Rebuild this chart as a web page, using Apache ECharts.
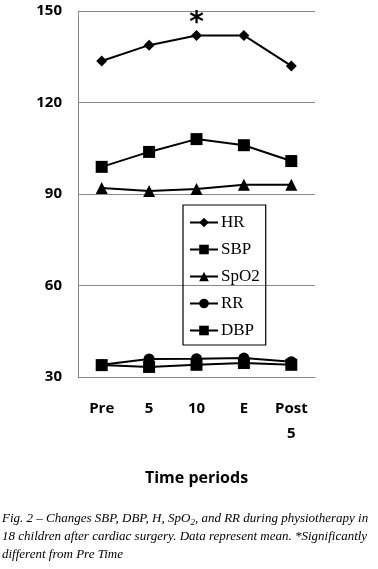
<!DOCTYPE html>
<html>
<head>
<meta charset="utf-8">
<script src="https://cdn.jsdelivr.net/npm/echarts@6/dist/echarts.min.js"></script>
<style>
  html, body { margin: 0; padding: 0; background: #fff; }
  #chart { width: 378px; height: 569px; }
</style>
</head>
<body>
<div id="chart"></div>
<script>
const periods = ['Pre', '5', '10', 'E', 'Post\n5'];
const yTicks = [30, 60, 90, 120, 150];
const hr = [133.6, 138.8, 142, 142, 132];
const sbp = [98.9, 103.8, 108, 106, 100.8];
const spo2 = [92, 91, 91.6, 93, 93];
const rr = [34, 35.9, 36, 36.2, 35];
const dbp = [33.9, 33.3, 34, 34.6, 34];
// index of the HR point flagged as significant
const sigIndex = 2;

const chart = echarts.init(document.getElementById('chart'), null, { renderer: 'canvas' });

function lineSeries(name, data, symbol, size) {
  return {
    name,
    type: 'line',
    data,
    symbol,
    symbolSize: size,
    showAllSymbol: true,
    lineStyle: { color: '#000', width: 2 },
    itemStyle: { color: '#000' },
    emphasis: { disabled: true },
    animation: false
  };
}

const hrSeries = lineSeries('HR', hr.map((v, i) => i === sigIndex ? {
  value: v,
  label: {
    show: true, position: 'top', formatter: '*', distance: 0, offset: [0, 8],
    fontSize: 28, fontWeight: 'bold', color: '#000', fontFamily: 'DejaVu Sans'
  }
} : v), 'diamond', 11);

const option = {
  backgroundColor: '#fff',
  grid: { left: 78, right: 63, top: 11, bottom: 192 },
  legend: {
    orient: 'vertical',
    left: 183, top: 205,
    width: 83,
    padding: [9, 6, 6, 6],
    itemGap: 10,
    itemWidth: 28,
    itemHeight: 12,
    borderColor: '#000',
    borderWidth: 1.2,
    borderRadius: 0,
    textStyle: { fontFamily: 'Liberation Serif', fontSize: 17, color: '#000', padding: [0, 0, 0, -2] },
    data: ['HR', 'SBP', 'SpO2', 'RR', 'DBP'],
    selectedMode: false
  },
  xAxis: {
    type: 'category',
    data: periods,
    boundaryGap: true,
    axisLine: { show: true, lineStyle: { color: '#888', width: 1 } },
    axisTick: { show: false },
    axisLabel: {
      fontFamily: 'Open Sans', fontWeight: 'bold', fontSize: 15, color: '#000',
      margin: 19, lineHeight: 25
    },
    name: 'Time periods',
    nameLocation: 'middle',
    nameGap: 93,
    nameTextStyle: { fontFamily: 'Open Sans', fontWeight: 'bold', fontSize: 16, color: '#000' }
  },
  yAxis: {
    type: 'value',
    min: yTicks[0],
    max: yTicks[yTicks.length - 1],
    interval: 30,
    axisLine: { show: true, lineStyle: { color: '#888', width: 1 } },
    axisTick: { show: false },
    splitLine: { lineStyle: { color: '#888', width: 1 } },
    axisLabel: { fontFamily: 'Open Sans', fontWeight: 'bold', fontSize: 15, color: '#000', margin: 16 }
  },
  series: [
    hrSeries,
    lineSeries('SBP', sbp, 'rect', 12),
    lineSeries('SpO2', spo2, 'triangle', 12),
    lineSeries('RR', rr, 'circle', 11),
    lineSeries('DBP', dbp, 'rect', 12)
  ],
  graphic: [{
    type: 'text',
    left: 2,
    top: 510,
    style: {
      text: '{t|Fig. 2 – Changes SBP, DBP, H, SpO}{s|2}{t|, and RR during physiotherapy in}\n' +
        '{t|18 children after cardiac surgery. Data represent mean. *Significantly}\n' +
        '{t|different from Pre Time}',
      rich: {
        t: { fontFamily: 'Liberation Serif', fontStyle: 'italic', fontSize: 13, color: '#222', lineHeight: 18 },
        s: { fontFamily: 'Liberation Serif', fontStyle: 'italic', fontSize: 9, color: '#222', lineHeight: 18, padding: [8, 0, 0, 0] }
      }
    }
  }]
};

chart.setOption(option);
</script>
</body>
</html>
